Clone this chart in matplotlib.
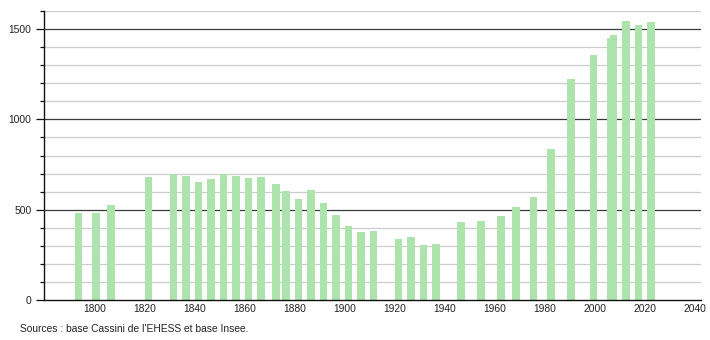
import matplotlib
matplotlib.use("Agg")
import matplotlib.pyplot as plt
from matplotlib.ticker import MultipleLocator

plt.rcParams['font.family'] = ['Liberation Sans', 'DejaVu Sans']

years = [1793, 1800, 1806, 1821, 1831, 1836, 1841, 1846, 1851, 1856, 1861, 1866,
         1872, 1876, 1881, 1886, 1891, 1896, 1901, 1906, 1911, 1921, 1926, 1931,
         1936, 1946, 1954, 1962, 1968, 1975, 1982, 1990, 1999, 2006, 2007, 2012,
         2017, 2022]
population = [480, 480, 526, 683, 697, 684, 653, 670, 697, 686, 678, 683,
              644, 602, 561, 611, 539, 470, 409, 378, 383, 335, 350, 306,
              309, 432, 438, 466, 514, 569, 835, 1223, 1356, 1450, 1469, 1546,
              1524, 1541]
x_ticks = [1800, 1820, 1840, 1860, 1880, 1900, 1920, 1940, 1960, 1980, 2000, 2020, 2040]
y_ticks = [0, 500, 1000, 1500]
source = "Sources : base Cassini de l'EHESS et base Insee."

fig = plt.figure(figsize=(7.1, 3.4), dpi=100)
ax = fig.add_axes([44/710, 1-300/340, (700.7-44)/710, (300-11)/340])

ax.set_xlim(1779.6, 2042.3)
ax.set_ylim(0, 1600)

# grid lines
for v in range(100, 1601, 100):
    if v % 500 == 0:
        ax.axhline(v, color='#3a3a3a', lw=0.9, zorder=1)
    else:
        ax.axhline(v, color='#cccccc', lw=0.9, zorder=1)

ax.bar([y + 0.4 for y in years], population, width=2.9, color='#ade3ad',
       edgecolor='none', zorder=2)

for s in ['top', 'right']:
    ax.spines[s].set_visible(False)
ax.spines['left'].set_color('#111111')
ax.spines['bottom'].set_color('#111111')
ax.spines['left'].set_linewidth(1.0)
ax.spines['bottom'].set_linewidth(1.0)

ax.set_yticks(y_ticks)
ax.yaxis.set_minor_locator(MultipleLocator(100))
ax.tick_params(axis='y', which='major', length=6, width=0.9, color='#111111',
               labelsize=7.4, labelcolor='#222222', pad=3)
ax.tick_params(axis='y', which='minor', length=3, width=0.9, color='#111111')
ax.set_xticks(x_ticks)
ax.tick_params(axis='x', which='major', length=0, labelsize=7.4,
               labelcolor='#222222', pad=3)

fig.text(20/710, 1-329/340, source, fontsize=7.4, color='#222222', va='center', ha='left')

fig.savefig('out.png', dpi=100, facecolor='white')
